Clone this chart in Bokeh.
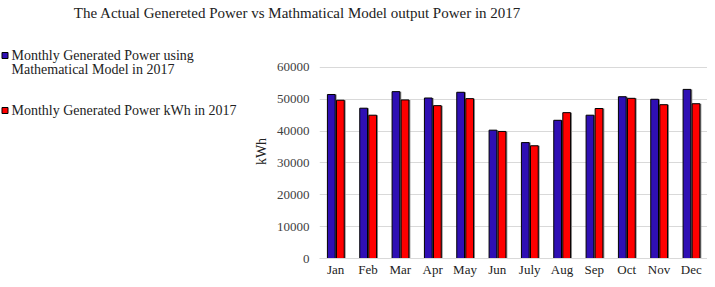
from bokeh.plotting import figure
from bokeh.models import FactorRange, Range1d, ColumnDataSource
from bokeh.layouts import column, row
from bokeh.transform import dodge
from bokeh.core.properties import value
from bokeh.embed import file_html
from bokeh.resources import INLINE

months = ["Jan", "Feb", "Mar", "Apr", "May", "Jun", "July", "Aug", "Sep", "Oct", "Nov", "Dec"]
model_power = [51500, 47200, 52400, 50400, 52200, 40300, 36400, 43400, 45000, 50800, 50000, 53100]
actual_power = [49700, 45000, 49800, 48000, 50200, 39900, 35400, 45800, 47100, 50300, 48300, 48600]
y_ticks = [0, 10000, 20000, 30000, 40000, 50000, 60000]

title_text = "The Actual Genereted Power vs Mathmatical Model output Power in 2017"
legend_model = ["Monthly Generated Power using", "Mathematical Model in 2017"]
legend_actual = "Monthly Generated Power kWh in 2017"

BLUE = "#2F0FB4"
RED = "#FF0000"
FONT = "Liberation Serif"
TEXT_COL = "#222222"

W, H = 707, 279
TH = 30          # title strip height
LW = 250         # legend panel width
BH = H - TH
TOP_B = 14       # chart border above frame
FRAME_TOP = TH + TOP_B
FRAME_BOT = 258
Y_MAX = 67200    # headroom above the 60000 gridline (no tick/grid drawn there)


def blank(w, h, y0, y1):
    f = figure(width=w, height=h, x_range=Range1d(0, w), y_range=Range1d(y1, y0),
               output_backend="svg", toolbar_location=None,
               x_axis_location=None, y_axis_location=None,
               min_border=0, min_border_left=0, min_border_right=0,
               min_border_top=0, min_border_bottom=0)
    f.grid.visible = False
    f.outline_line_color = None
    return f


# ---- title strip
tf = blank(W, TH, 0, TH)
tf.text(x=[297], y=[12], text=[title_text], text_font=value(FONT), text_font_size="15px",
        text_align="center", text_baseline="middle", text_color=TEXT_COL)

# ---- legend panel (its frame is aligned with the chart frame by the row layout)
lf = blank(LW, BH, FRAME_TOP, FRAME_BOT)
lf.text(x=[11, 11, 11], y=[55, 69, 110], text=[legend_model[0], legend_model[1], legend_actual],
        text_font=value(FONT), text_font_size="14px", text_align="left",
        text_baseline="middle", text_color=TEXT_COL)
lf.rect(x=[4.5, 4.5], y=[55, 110], width=6, height=6, width_units="screen", height_units="screen",
        fill_color=[BLUE, RED], line_color="black", line_width=1)

# ---- chart
src = ColumnDataSource(dict(m=months, a=model_power, b=actual_power))
p = figure(width=W - LW, height=BH, x_range=FactorRange(*months), y_range=Range1d(0, Y_MAX),
           output_backend="svg", toolbar_location=None,
           min_border_left=66, min_border_right=0, min_border_top=TOP_B, min_border_bottom=0)
p.outline_line_color = None

p.vbar(x=dodge("m", -0.09, range=p.x_range), top="a", width=0.24, source=src,
       fill_color="#8c8c8c", line_color=None)
p.vbar(x=dodge("m", 0.19, range=p.x_range), top="b", width=0.24, source=src,
       fill_color="#8c8c8c", line_color=None)
p.vbar(x=dodge("m", -0.135, range=p.x_range), top="a", width=0.24, source=src,
       fill_color=BLUE, line_color="black", line_width=1)
p.vbar(x=dodge("m", 0.145, range=p.x_range), top="b", width=0.24, source=src,
       fill_color=RED, line_color="black", line_width=1)

p.xgrid.grid_line_color = None
p.ygrid.grid_line_color = "#d9d9d9"
p.ygrid.grid_line_width = 1
p.yaxis.ticker = y_ticks
p.yaxis.axis_line_color = None
p.yaxis.major_tick_line_color = None
p.yaxis.minor_tick_line_color = None
p.yaxis.major_tick_out = 0
p.yaxis.minor_tick_out = 0
p.yaxis.major_label_text_font = FONT
p.yaxis.major_label_text_font_size = "13px"
p.yaxis.major_label_text_color = "#404040"
p.yaxis.major_label_standoff = 10
p.yaxis.axis_label = "kWh"
p.yaxis.axis_label_text_font = FONT
p.yaxis.axis_label_text_font_style = "normal"
p.yaxis.axis_label_text_font_size = "14px"
p.yaxis.axis_label_text_color = TEXT_COL
p.yaxis.axis_label_standoff = 5

p.xaxis.axis_line_color = "#d9d9d9"
p.xaxis.axis_line_width = 1
p.xaxis.major_tick_line_color = None
p.xaxis.minor_tick_line_color = None
p.xaxis.major_tick_out = 0
p.xaxis.minor_tick_out = 0
p.xaxis.major_label_text_font = FONT
p.xaxis.major_label_text_font_size = "13px"
p.xaxis.major_label_text_color = TEXT_COL
p.xaxis.major_label_standoff = 3

layout = column(tf, row(lf, p))
open("out.html", "w").write(file_html(layout, INLINE))
